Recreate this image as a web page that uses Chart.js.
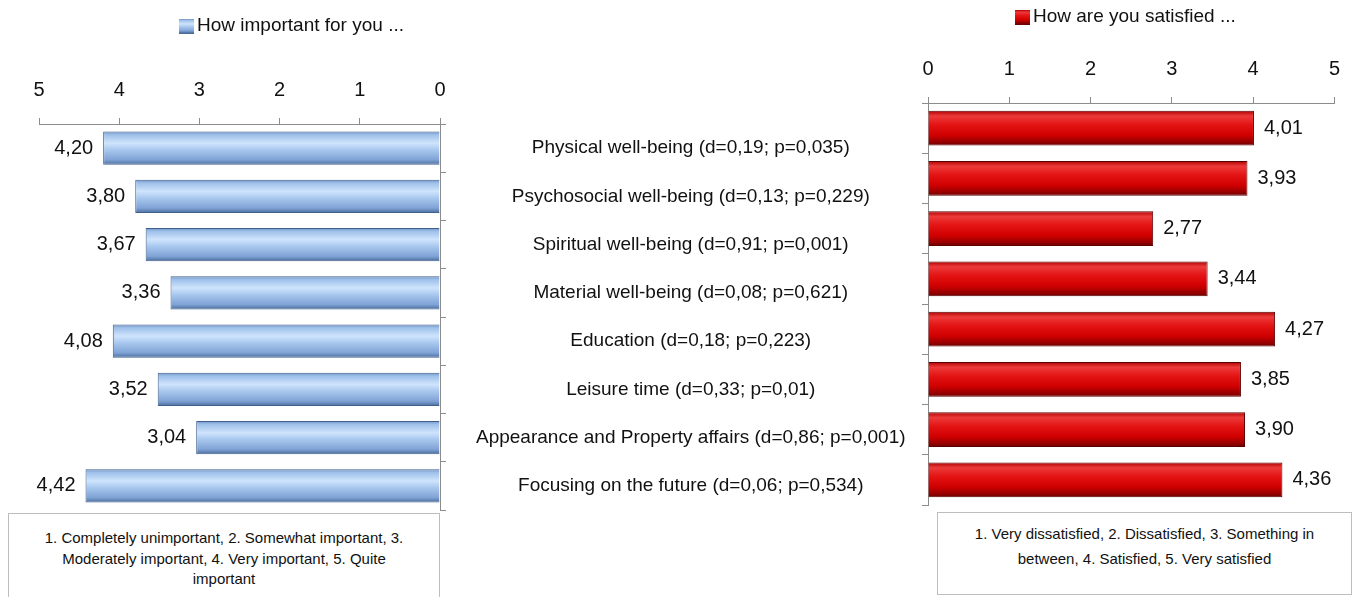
<!DOCTYPE html>
<html>
<head>
<meta charset="utf-8">
<script src="https://cdn.jsdelivr.net/npm/chart.js@4.4.1/dist/chart.umd.min.js"></script>
<style>
  body { margin: 0; background: #fff; width: 1356px; height: 597px; position: relative; overflow: hidden;
         font-family: 'Liberation Sans', Arial, sans-serif; }
  .wrap { position: absolute; top: 0; height: 597px; }
  #leftWrap { left: 0; width: 950px; }
  #rightWrap { left: 900px; width: 456px; }
  .note { position: absolute; border: 1px solid #bdbdbd; background: #fff; text-align: center;
          font-size: 15px; color: #111; box-sizing: border-box; }
  #leftNote { left: 8px; top: 513px; width: 432px; height: 95px; padding-top: 14px; line-height: 20.5px; }
  #rightNote { left: 937px; top: 512px; width: 415px; height: 83px; padding-top: 8px; line-height: 25px; }
</style>
</head>
<body>
<div class="wrap" id="leftWrap"><canvas id="leftChart"></canvas></div>
<div class="wrap" id="rightWrap"><canvas id="rightChart"></canvas></div>
<div class="note" id="leftNote"></div>
<div class="note" id="rightNote"></div>
<script>
// data
const categories = [
  'Physical well-being (d=0,19; p=0,035)',
  'Psychosocial well-being (d=0,13; p=0,229)',
  'Spiritual well-being (d=0,91; p=0,001)',
  'Material well-being (d=0,08; p=0,621)',
  'Education (d=0,18; p=0,223)',
  'Leisure time (d=0,33; p=0,01)',
  'Appearance and Property affairs (d=0,86; p=0,001)',
  'Focusing on the future (d=0,06; p=0,534)'
];
const importance = [4.20, 3.80, 3.67, 3.36, 4.08, 3.52, 3.04, 4.42];
const satisfaction = [4.01, 3.93, 2.77, 3.44, 4.27, 3.85, 3.90, 4.36];
const importanceLabel = 'How important for you ...';
const satisfactionLabel = 'How are you satisfied ...';
const importanceNote = ['1. Completely unimportant, 2. Somewhat important, 3.', 'Moderately important, 4. Very important, 5. Quite', 'important'];
const satisfactionNote = ['1. Very dissatisfied, 2. Dissatisfied, 3. Something in', 'between, 4. Satisfied, 5. Very satisfied'];

document.getElementById('leftNote').innerHTML = importanceNote.join('<br>');
document.getElementById('rightNote').innerHTML = satisfactionNote.join('<br>');

Chart.defaults.font.family = "'Liberation Sans', Arial, sans-serif";
Chart.defaults.color = '#111';

const BAR_PCT = 0.69;
const palettes = {
  blue: [[0, '#6f93c4'], [0.1, '#9ec0ea'], [0.35, '#cfe4fc'], [0.55, '#a9c8ef'], [0.85, '#7fa3d5'], [1, '#4a6c9b']],
  red: [[0, '#b00000'], [0.15, '#ec3a3a'], [0.4, '#e41414'], [0.7, '#d00000'], [0.88, '#9c0000'], [1, '#6e0000']]
};

// vertical gradient per bar, like the bevel look of the original
function barFill(name) {
  const stops = palettes[name];
  return function (context) {
    const chart = context.chart;
    const y = chart.scales.y;
    if (!chart.chartArea || !y || context.dataIndex === undefined) return stops[2][1];
    const c = y.getPixelForValue(context.dataIndex);
    const h = (y.bottom - y.top) / chart.data.labels.length * BAR_PCT;
    const g = chart.ctx.createLinearGradient(0, c - h / 2, 0, c + h / 2);
    stops.forEach(s => g.addColorStop(s[0], s[1]));
    return g;
  };
}

const valueLabels = {
  id: 'valueLabels',
  afterDatasetsDraw(chart, args, opts) {
    const ctx = chart.ctx;
    const values = chart.data.datasets[0].data;
    ctx.save();
    ctx.font = '20px "Liberation Sans", Arial, sans-serif';
    ctx.fillStyle = '#111';
    ctx.textBaseline = 'middle';
    ctx.textAlign = opts.side === 'left' ? 'right' : 'left';
    chart.getDatasetMeta(0).data.forEach((bar, i) => {
      const txt = values[i].toFixed(2).replace('.', ',');
      ctx.fillText(txt, opts.side === 'left' ? bar.x - 10 : bar.x + 10, bar.y);
    });
    ctx.restore();
  }
};

const boxLegend = {
  id: 'boxLegend',
  afterDraw(chart, args, opts) {
    const ctx = chart.ctx;
    const stops = palettes[opts.palette];
    ctx.save();
    const g = ctx.createLinearGradient(0, opts.y - 7, 0, opts.y + 7);
    stops.forEach(s => g.addColorStop(s[0], s[1]));
    ctx.fillStyle = g;
    ctx.fillRect(opts.x, opts.y - 7, 15, 15);
    ctx.font = '19px "Liberation Sans", Arial, sans-serif';
    ctx.fillStyle = '#111';
    ctx.textBaseline = 'middle';
    ctx.textAlign = 'left';
    ctx.fillText(chart.data.datasets[0].label, opts.x + 18, opts.y);
    ctx.restore();
  }
};

const axisGray = '#8c8c8c';

new Chart(document.getElementById('leftChart'), {
  type: 'bar',
  data: {
    labels: categories,
    datasets: [{
      label: importanceLabel,
      data: importance,
      backgroundColor: barFill('blue'),
      borderColor: '#3f5f8c',
      borderWidth: 1,
      barPercentage: BAR_PCT,
      categoryPercentage: 1
    }]
  },
  options: {
    indexAxis: 'y',
    responsive: true,
    maintainAspectRatio: false,
    animation: false,
    layout: { padding: { top: 74, bottom: 87, left: 39, right: 0 } },
    plugins: {
      legend: { display: false },
      tooltip: { enabled: false },
      valueLabels: { side: 'left' },
      boxLegend: { x: 179, y: 26, palette: 'blue' }
    },
    scales: {
      x: {
        position: 'top', reverse: true, min: 0, max: 5,
        ticks: { stepSize: 1, padding: 16, font: { size: 20 } },
        grid: { drawOnChartArea: false, tickLength: 6, color: axisGray },
        border: { color: axisGray },
        afterFit: s => { s.height = 50; }
      },
      y: {
        position: 'right',
        grid: { offset: true, drawOnChartArea: false, tickLength: 6, color: axisGray },
        border: { color: axisGray },
        ticks: { crossAlign: 'center', padding: 30, font: { size: 19 } },
        afterFit: s => { s.width = 510; }
      }
    }
  },
  plugins: [valueLabels, boxLegend]
});

new Chart(document.getElementById('rightChart'), {
  type: 'bar',
  data: {
    labels: categories,
    datasets: [{
      label: satisfactionLabel,
      data: satisfaction,
      backgroundColor: barFill('red'),
      borderColor: '#5a0000',
      borderWidth: 1,
      barPercentage: BAR_PCT,
      categoryPercentage: 1
    }]
  },
  options: {
    indexAxis: 'y',
    responsive: true,
    maintainAspectRatio: false,
    animation: false,
    layout: { padding: { top: 53, bottom: 92, left: 22, right: 19 } },
    plugins: {
      legend: { display: false },
      tooltip: { enabled: false },
      valueLabels: { side: 'right' },
      boxLegend: { x: 115, y: 17, palette: 'red' }
    },
    scales: {
      x: {
        position: 'top', min: 0, max: 5,
        ticks: { stepSize: 1, padding: 16, font: { size: 20 } },
        grid: { drawOnChartArea: false, tickLength: 6, color: axisGray },
        border: { color: axisGray },
        afterFit: s => { s.height = 50; }
      },
      y: {
        position: 'left',
        grid: { offset: true, drawOnChartArea: false, tickLength: 6, color: axisGray },
        border: { color: axisGray },
        ticks: { display: false },
        afterFit: s => { s.width = 6; }
      }
    }
  },
  plugins: [valueLabels, boxLegend]
});
</script>
</body>
</html>
